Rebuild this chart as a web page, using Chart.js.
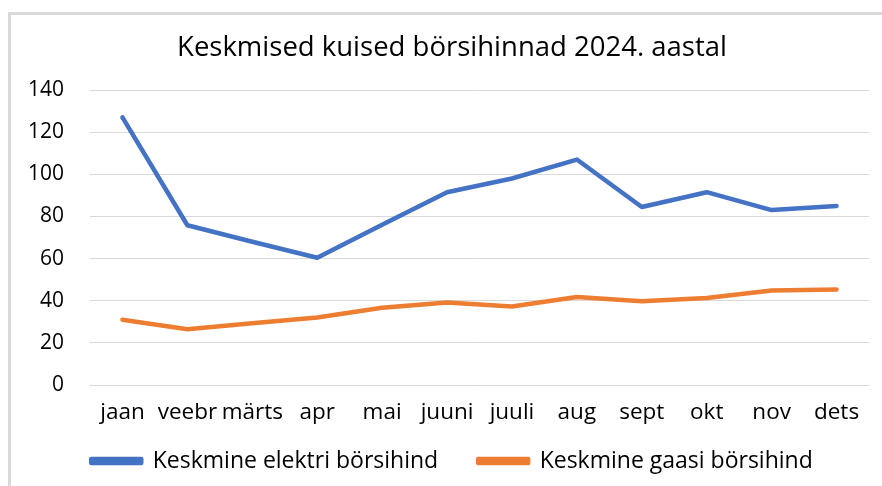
<!DOCTYPE html>
<html>
<head>
<meta charset="utf-8">
<script src="https://cdn.jsdelivr.net/npm/chart.js@4"></script>
<style>
  html, body { margin: 0; padding: 0; background: #fff; }
  #wrap { position: relative; width: 882px; height: 486px; overflow: hidden; }
  #frame { position: absolute; left: 8px; top: 12px; width: 1000px; height: 600px;
           border-left: 3px solid #d9d9d9; border-top: 3px solid #d9d9d9; }
  #chart { position: absolute; left: 0; top: 0; }
</style>
</head>
<body>
<div id="wrap">
  <div id="frame"></div>
  <canvas id="chart" width="882" height="486"></canvas>
</div>
<script>
// kuud ja hinnad (EUR/MWh)
const months = ['jaan', 'veebr', 'märts', 'apr', 'mai', 'juuni', 'juuli', 'aug', 'sept', 'okt', 'nov', 'dets'];
const elekter = [127, 75.8, 68, 60.4, 76, 91.5, 98, 107, 84.5, 91.5, 83, 85];
const gaas = [31, 26.5, 29.3, 32, 36.7, 39.2, 37.3, 41.8, 39.8, 41.3, 44.8, 45.3];
const yTicks = [0, 20, 40, 60, 80, 100, 120, 140];

const FONT = 'Open Sans';

// legend sits close under the month labels, so keep the x labels from being clipped
const unclipX = {
    id: 'unclipX',
    afterLayout(chart) { chart.scales.x.bottom = chart.height; }
};

document.addEventListener('DOMContentLoaded', () => {
    const ctx = document.getElementById('chart').getContext('2d');
    new Chart(ctx, {
        type: 'line',
        data: {
            labels: months,
            datasets: [
                { label: 'Keskmine elektri börsihind', data: elekter, borderColor: '#4472C4', backgroundColor: '#4472C4', borderWidth: 4.5, pointRadius: 0, borderCapStyle: 'round', borderJoinStyle: 'round' },
                { label: 'Keskmine gaasi börsihind', data: gaas, borderColor: '#ED7D31', backgroundColor: '#ED7D31', borderWidth: 4.5, pointRadius: 0, borderCapStyle: 'round', borderJoinStyle: 'round' }
            ]
        },
        options: {
            responsive: false,
            animation: false,
            layout: { padding: { left: 22, right: 0, top: 0, bottom: 3.5 } },
            plugins: {
                title: { display: true, text: 'Keskmised kuised börsihinnad 2024. aastal', color: '#000', font: { family: FONT, size: 27.5, weight: 'normal' }, padding: { top: 32, bottom: 25 } },
                legend: {
                    position: 'bottom',
                    labels: { color: '#000', font: { family: FONT, size: 23 }, boxWidth: 50, boxHeight: 4, padding: 40 }
                },
                tooltip: { enabled: false }
            },
            scales: {
                x: {
                    offset: true,
                    afterFit: (axis) => { axis.height = 24.5; },
                    grid: { display: false, drawTicks: false },
                    border: { display: false },
                    ticks: { color: '#000', font: { family: FONT, size: 22.5 }, autoSkip: false, maxRotation: 0, padding: 14 }
                },
                y: {
                    min: 0, max: 140,
                    afterBuildTicks: (axis) => { axis.ticks = yTicks.map(v => ({ value: v })); },
                    afterFit: (axis) => { axis.width = 68; },
                    grid: { color: '#d9d9d9', lineWidth: 1, drawTicks: false },
                    border: { display: false },
                    ticks: { color: '#000', font: { family: FONT, size: 21 }, padding: 26 }
                },
                yRight: {
                    position: 'right',
                    afterFit: (axis) => { axis.width = 13; },
                    grid: { display: false, drawTicks: false },
                    border: { display: false },
                    ticks: { display: false }
                }
            }
        },
        plugins: [unclipX]
    });
});
</script>
</body>
</html>
